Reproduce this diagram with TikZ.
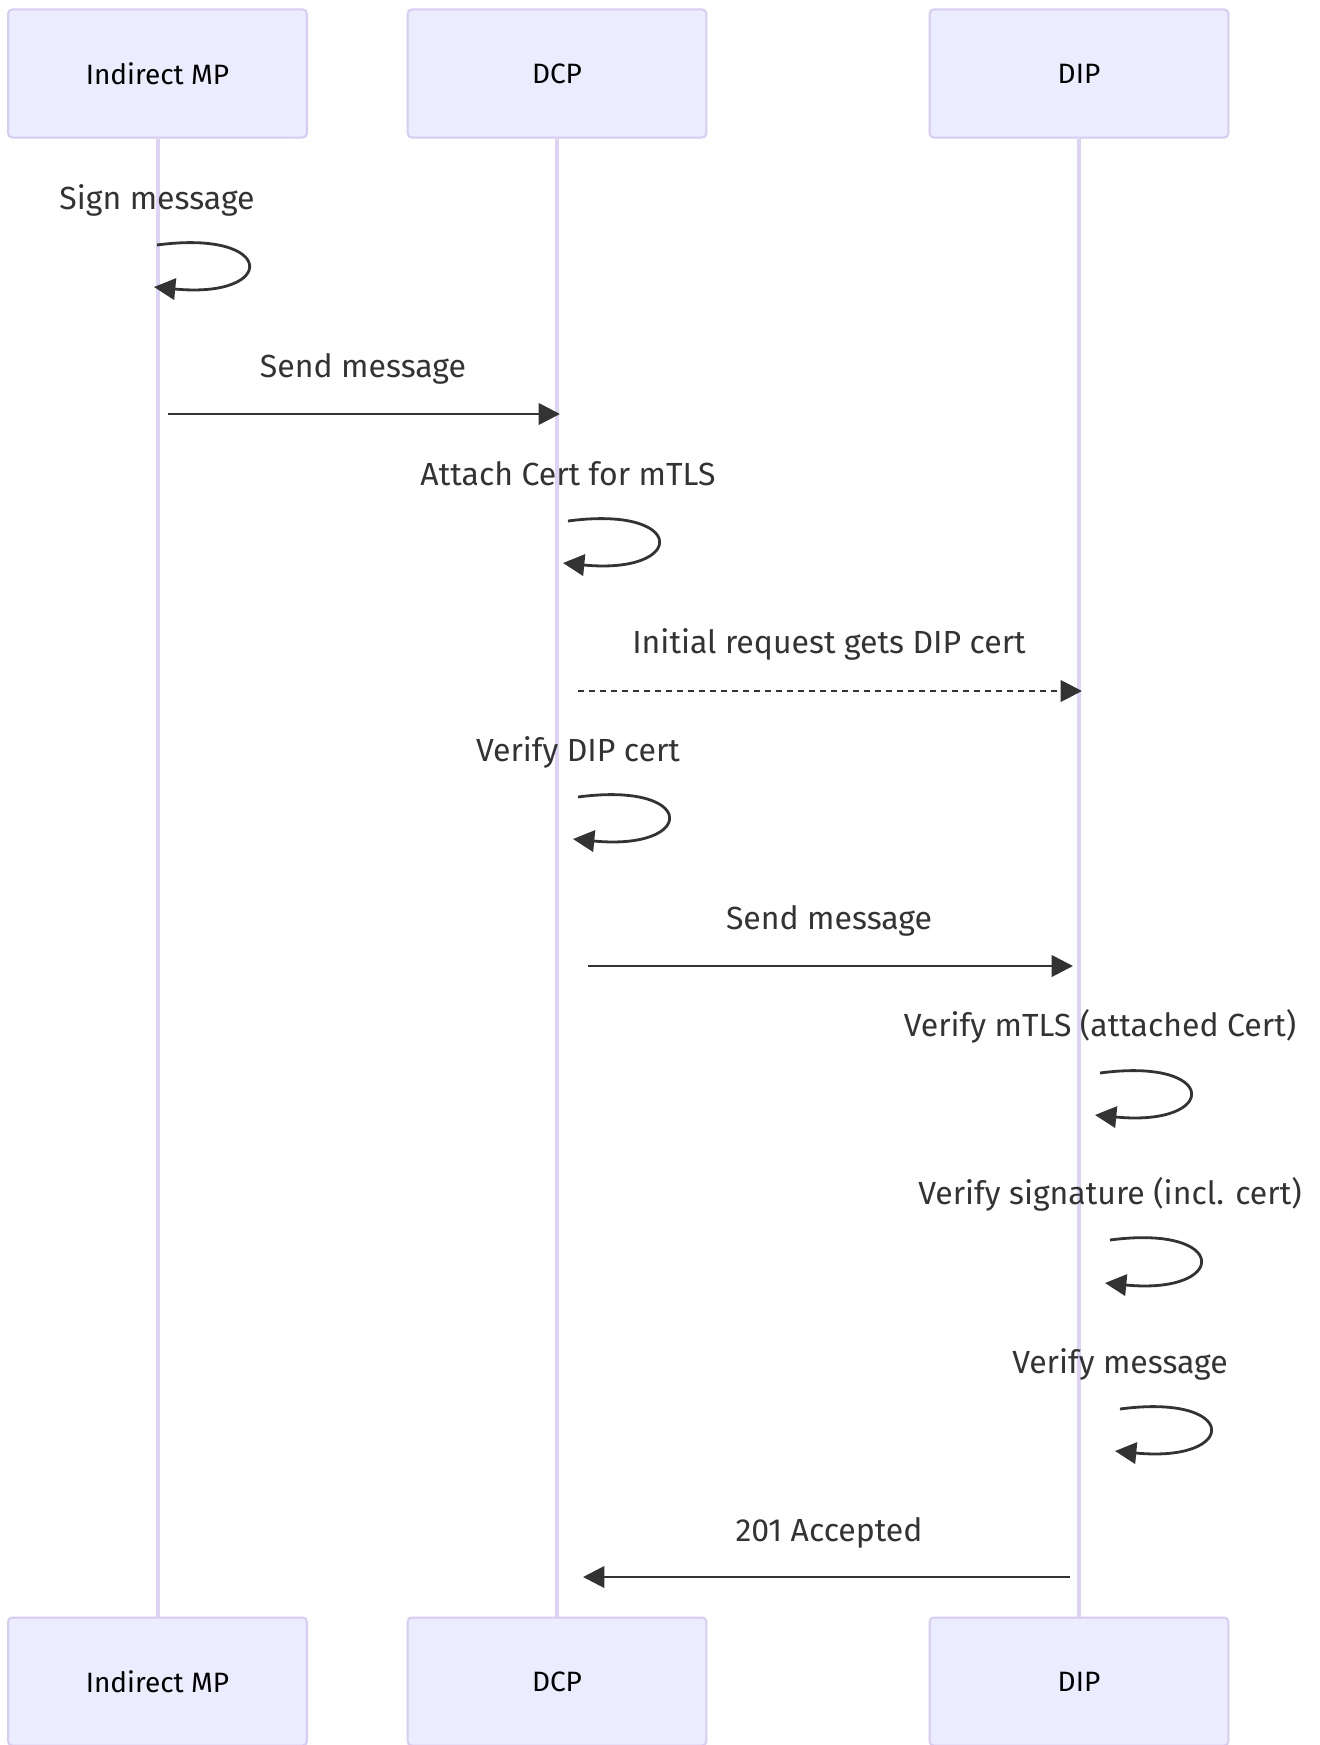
\documentclass[tikz,border=0pt]{standalone}
\usepackage{fontspec}
\setmainfont{Fira Sans}
\usetikzlibrary{arrows.meta}
\definecolor{actorfill}{HTML}{ECECFF}
\definecolor{actorline}{HTML}{D6CCF3}
\definecolor{lifeline}{HTML}{DCD3F6}
\definecolor{msgtext}{HTML}{333333}
\tikzstyle{actor} = [rectangle, rounded corners=3pt, minimum width=224pt, minimum height=96pt, draw=actorline, line width=1.5pt, fill=actorfill, text=black, font=\fontsize{21}{25}\selectfont]
\tikzstyle{life} = [draw=lifeline, line width=3pt]
\tikzstyle{msg} = [text=msgtext, font=\fontsize{24}{28}\selectfont, anchor=base, inner sep=0pt]
\tikzstyle{arrow} = [draw=msgtext, line width=2.1pt, -{Triangle[length=16pt,width=16pt]}]
\tikzstyle{dasharrow} = [arrow, dash pattern=on 4.5pt off 3.75pt]
\begin{document}
\begin{tikzpicture}[x=0.75pt, y=-0.75pt]
\useasboundingbox (0,0) rectangle (1320,1745);
% participants
\node (mpTop) [actor] at (157.5,73.5) {Indirect MP};
\node (dcpTop) [actor] at (557,73.5) {DCP};
\node (dipTop) [actor] at (1079,73.5) {DIP};
\node (mpBot) [actor] at (157.5,1681.5) {Indirect MP};
\node (dcpBot) [actor] at (557,1681.5) {DCP};
\node (dipBot) [actor] at (1079,1681.5) {DIP};
\draw [life] (mpTop) -- (mpBot);
\draw [life] (dcpTop) -- (dcpBot);
\draw [life] (dipTop) -- (dipBot);
% sign
\node (signLbl) [msg] at (157,209) {Sign message};
\coordinate (signA) at (157,245);
\coordinate (signB) at (154,287);
\draw [arrow] (signA) .. controls +(120,-16) and +(124,12) .. (signB);
% send to DCP
\node (sendOneLbl) [msg] at (363,377) {Send message};
\coordinate (sendOneA) at (168,414);
\coordinate (sendOneB) at (560,414);
\draw [arrow] (sendOneA) -- (sendOneB);
% attach cert
\node (attachLbl) [msg] at (568,485) {Attach Cert for mTLS};
\coordinate (attachA) at (568,521);
\coordinate (attachB) at (563,563);
\draw [arrow] (attachA) .. controls +(120,-16) and +(124,12) .. (attachB);
% initial request
\node (initLbl) [msg] at (829,653) {Initial request gets DIP cert};
\coordinate (initA) at (578,691);
\coordinate (initB) at (1082,691);
\draw [dasharrow] (initA) -- (initB);
% verify DIP cert
\node (vdipLbl) [msg] at (578,761) {Verify DIP cert};
\coordinate (vdipA) at (578,797);
\coordinate (vdipB) at (573,839);
\draw [arrow] (vdipA) .. controls +(120,-16) and +(124,12) .. (vdipB);
% send to DIP
\node (sendTwoLbl) [msg] at (829,929) {Send message};
\coordinate (sendTwoA) at (588,966);
\coordinate (sendTwoB) at (1073,966);
\draw [arrow] (sendTwoA) -- (sendTwoB);
% verify mTLS
\node (vmtlsLbl) [msg] at (1100,1036) {Verify mTLS (attached Cert)};
\coordinate (vmtlsA) at (1100,1073);
\coordinate (vmtlsB) at (1095,1115);
\draw [arrow] (vmtlsA) .. controls +(120,-16) and +(124,12) .. (vmtlsB);
% verify signature
\node (vsigLbl) [msg] at (1110,1204) {Verify signature (incl. cert)};
\coordinate (vsigA) at (1110,1240);
\coordinate (vsigB) at (1105,1283);
\draw [arrow] (vsigA) .. controls +(120,-16) and +(124,12) .. (vsigB);
% verify message
\node (vmsgLbl) [msg] at (1120,1373) {Verify message};
\coordinate (vmsgA) at (1120,1409);
\coordinate (vmsgB) at (1115,1451);
\draw [arrow] (vmsgA) .. controls +(120,-16) and +(124,12) .. (vmsgB);
% reply
\node (acceptLbl) [msg] at (829,1541) {201 Accepted};
\coordinate (acceptA) at (1070,1577);
\coordinate (acceptB) at (583,1577);
\draw [arrow] (acceptA) -- (acceptB);
\end{tikzpicture}
\end{document}
